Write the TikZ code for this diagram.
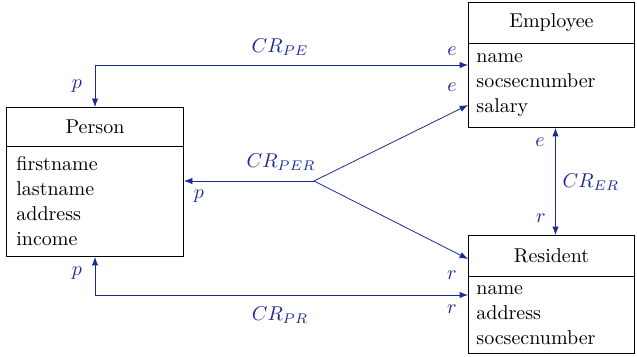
\documentclass[tikz,border=0pt]{standalone}
\usetikzlibrary{arrows.meta}
\definecolor{crblue}{RGB}{28,42,150}
\begin{document}
\begin{tikzpicture}[x=0.5pt,y=-0.5pt, font=\fontsize{10}{12.65}\selectfont,
  >={Latex[length=4.2pt,width=3.2pt]},
  box/.style={draw, line width=0.5pt, inner sep=0pt, anchor=north west},
  attrs/.style={anchor=base west, align=left, inner sep=0pt},
  crline/.style={draw=crblue, line width=0.4pt},
  lbl/.style={text=crblue, inner sep=0pt}]
\useasboundingbox (0,0) rectangle (637,357);

% Person
\node[box, minimum width=88.5pt, minimum height=19.5pt] (person) at (6,107) {Person};
\node[box, minimum width=88.5pt, minimum height=55pt] (personbody) at (6,146) {};
\node[attrs] (personattrs) at (16,246) {firstname\\lastname\\address\\income};

% Employee
\node[box, minimum width=83pt, minimum height=20.5pt] (employee) at (468,2) {Employee};
\node[box, minimum width=83pt, minimum height=42pt] (employeebody) at (468,43) {};
\node[attrs] (employeeattrs) at (476,113) {name\\socsecnumber\\salary};

% Resident
\node[box, minimum width=83pt, minimum height=20.5pt] (resident) at (468,235) {Resident};
\node[box, minimum width=83pt, minimum height=38.5pt] (residentbody) at (468,276) {};
\node[attrs] (residentattrs) at (476,345) {name\\address\\socsecnumber};

% connector points
\coordinate (hub) at (314,181);
\coordinate (e1) at ([yshift=-11pt]employeebody.north west);
\coordinate (e2) at ([yshift=-31pt]employeebody.north west);
\coordinate (r1) at ([yshift=-12pt]resident.north west);
\coordinate (r2) at ([yshift=-9.5pt]residentbody.north west);

% connectors
\path[crline, <->] (person.north) |- (e1);
\path[crline, ->] (hub) -- (hub -| personbody.east);
\path[crline, ->] (hub) -- (e2);
\path[crline, ->] (hub) -- (r1);
\path[crline, <->] (personbody.south) |- (r2);
\path[crline, <->] ([xshift=2pt]employeebody.south) -- ([xshift=2pt]resident.north);

% labels
\node[lbl] (lpe) at (280,47) {$CR_{PE}$};
\node[lbl] (lpe1) at (77,86) {$p$};
\node[lbl] (lpe2) at (452,51) {$e$};
\node[lbl] (lper) at (281,162) {$CR_{PER}$};
\node[lbl] (lper1) at (199,196) {$p$};
\node[lbl] (lper2) at (452,87) {$e$};
\node[lbl] (lper3) at (452,275) {$r$};
\node[lbl] (lpr) at (280,315) {$CR_{PR}$};
\node[lbl] (lpr1) at (77,273) {$p$};
\node[lbl] (lpr2) at (452,309) {$r$};
\node[lbl] (ler) at (591,182) {$CR_{ER}$};
\node[lbl] (ler1) at (540,142) {$e$};
\node[lbl] (ler2) at (541,218) {$r$};
\end{tikzpicture}
\end{document}
